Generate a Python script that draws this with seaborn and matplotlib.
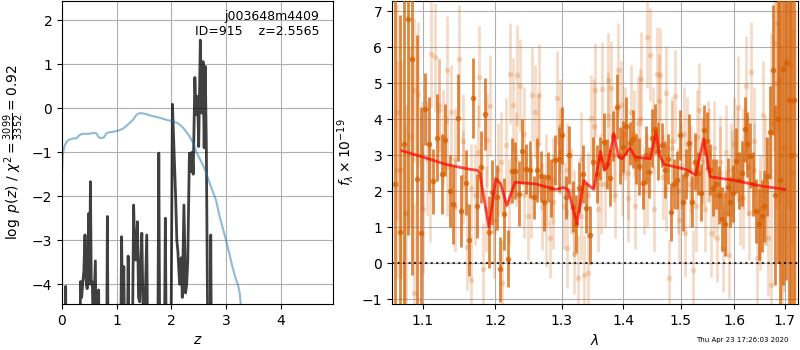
"""Redshift fit summary: p(z) on the left, G141 spectrum + best-fit model on the right."""

import matplotlib
matplotlib.use('Agg')

import matplotlib.pyplot as plt
import seaborn as sns
from matplotlib.ticker import NullLocator

# ---- left panel: log p(z) (dark, spiky) and scaled chi2 curve (blue) ----
PZ_Z = [0.00, 0.060, 0.067, 0.075, 0.32, 0.34, 0.36, 0.38, 0.40, 0.42,
        0.44, 0.46, 0.49, 0.505, 0.52, 0.535, 0.555, 0.57, 0.61, 0.63,
        0.67, 0.685, 0.815, 0.83, 0.845, 1.07, 1.09, 1.11, 1.13, 1.15,
        1.19, 1.21, 1.23, 1.29, 1.31, 1.33, 1.35, 1.38, 1.40, 1.42,
        1.44, 1.46, 1.48, 1.51, 1.55, 1.57, 1.75, 1.77, 1.79, 1.87,
        1.89, 1.91, 1.99, 2.02, 2.05, 2.08, 2.10, 2.12, 2.15, 2.18,
        2.20, 2.23, 2.26, 2.28, 2.30, 2.33, 2.36, 2.38, 2.40, 2.43,
        2.45, 2.48, 2.50, 2.53, 2.555, 2.58, 2.60, 2.62, 2.64, 2.67,
        2.71, 2.72, 2.735, 3.00]
PZ_LOGP = [-6, -6, -4.05, -6, -6, -3.94, -4.3, -3.95, -3.7, -2.88,
           -3.9, -4.1, -2.39, -4.0, -1.67, -3.9, -3.98, -5, -3.47, -6,
           -4.13, -6, -6, -2.46, -6, -6, -2.92, -5, -3.6, -6,
           -6, -3.36, -6, -5, -2.2, -3.2, -3.45, -2.58, -4.3, -4.4,
           -3.5, -2.84, -4.4, -5, -2.88, -6, -6, -1.02, -6, -6,
           -2.5, -6, -6, 0.09, -1.0, -2.08, -3.0, -3.26, -4.0, -3.4,
           -4.3, -2.2, -4.2, -4.0, -3.48, -1.02, -1.44, -1.0, -1.5, 0.70,
           -0.15, 0.27, -0.87, 1.55, -0.11, 1.06, -0.9, 0.95, -0.9, -6,
           -6, -2.88, -6, -6]

CHI_Z = [0.0, 0.015, 0.04, 0.08, 0.12, 0.17, 0.22, 0.26, 0.30, 0.35,
         0.40, 0.50, 0.58, 0.63, 0.67, 0.72, 0.77, 0.81, 0.86, 0.95,
         1.05, 1.12, 1.18, 1.24, 1.30, 1.36, 1.42, 1.50, 1.60, 1.70,
         1.80, 1.90, 2.00, 2.10, 2.16, 2.22, 2.28, 2.34, 2.40, 2.46,
         2.52, 2.58, 2.64, 2.70, 2.76, 2.82, 2.88, 2.94, 3.00, 3.06,
         3.12, 3.18, 3.22, 3.25, 3.28]
CHI_VAL = [-1.45, -1.05, -0.88, -0.77, -0.72, -0.70, -0.68, -0.69, -0.63, -0.59,
           -0.58, -0.58, -0.56, -0.57, -0.66, -0.68, -0.66, -0.57, -0.55, -0.53,
           -0.50, -0.46, -0.40, -0.33, -0.26, -0.15, -0.11, -0.12, -0.16, -0.19,
           -0.22, -0.26, -0.29, -0.33, -0.38, -0.45, -0.55, -0.65, -0.80, -1.0,
           -1.15, -1.30, -1.48, -1.70, -1.90, -2.10, -2.45, -2.72, -3.0, -3.3,
           -3.62, -3.88, -4.02, -4.2, -4.6]

# ---- right panel: spectrum (dark set + two faint sets) and model ----
DARK_WAVE = [1.064, 1.070, 1.075, 1.081, 1.086, 1.092, 1.097, 1.103, 1.108, 1.114,
             1.119, 1.125, 1.130, 1.136, 1.141, 1.147, 1.152, 1.158, 1.163, 1.169,
             1.174, 1.180, 1.185, 1.191, 1.196, 1.202, 1.207, 1.213, 1.218, 1.224,
             1.229, 1.235, 1.240, 1.246, 1.251, 1.257, 1.262, 1.268, 1.273, 1.279,
             1.284, 1.290, 1.295, 1.301, 1.306, 1.312, 1.317, 1.323, 1.328, 1.334,
             1.339, 1.345, 1.350, 1.356, 1.361, 1.367, 1.372, 1.378, 1.383, 1.389,
             1.394, 1.400, 1.405, 1.411, 1.416, 1.422, 1.427, 1.433, 1.438, 1.444,
             1.449, 1.455, 1.460, 1.466, 1.471, 1.477, 1.482, 1.488, 1.493, 1.499,
             1.504, 1.510, 1.515, 1.521, 1.526, 1.532, 1.537, 1.543, 1.548, 1.554,
             1.559, 1.565, 1.570, 1.576, 1.581, 1.587, 1.592, 1.598, 1.603, 1.609,
             1.614, 1.620, 1.625, 1.631, 1.636, 1.642, 1.647, 1.653, 1.658, 1.664,
             1.669, 1.675, 1.680, 1.686, 1.691, 1.697, 1.702, 1.708, 1.713, 1.718]
DARK_FLUX = [2.2, 0.88, 3.3, 6.78, 5.67, 2.33, 0.83, 4.29, 3.31, 2.27,
             3.49, 2.48, 3.43, 2.0, 1.64, 4.04, 1.45, 2.23, 0.64, 4.59,
             1.59, 2.66, 4.14, 0.86, 1.97, 1.83, -0.17, 1.37, 0.13, 2.57,
             2.57, 1.93, 3.11, 2.62, 2.6, 1.83, 2.59, 2.41, 1.69, 2.4,
             2.08, 2.87, 2.88, 3.55, 1.83, 3.01, 1.57, 1.09, 2.1, 2.47,
             1.53, 0.79, 2.8, 2.47, 2.9, 3.36, 2.75, 2.38, 3.53, 4.35,
             2.99, 3.24, 3.8, 3.33, 3.44, 2.9, 2.69, 2.22, 3.0, 2.52,
             3.47, 3.72, 3.12, 3.28, 2.6, 2.9, 1.42, 2.2, 2.31, 3.56,
             1.69, 2.48, 3.33, 1.71, 2.82, 2.5, 1.96, 3.7, 3.39, 2.6,
             2.1, 2.2, 1.9, 1.23, 1.09, 2.11, 1.7, 1.94, 2.84, 2.3,
             2.5, 3.72, 3.3, 2.99, 2.2, 1.45, 1.1, 1.3, 1.59, 2.41,
             3.63, 5.36, 1.9, 4.0, 2.3, 5.4, 5.55, 4.54, 3.0, 4.54]
DARK_ERR = [6, 6, 6, 6, 6, 4, 3.5, 1.0, 1.3, 0.9,
            1.2, 1.1, 1.0, 1.0, 1.1, 1.2, 1.0, 0.9, 1.0, 1.1,
            0.9, 1.0, 1.0, 1.0, 0.9, 0.9, 0.9, 1.0, 0.8, 0.9,
            0.8, 0.9, 0.9, 0.7, 0.8, 0.6, 0.9, 0.7, 0.8, 0.7,
            0.8, 0.7, 0.9, 0.8, 0.6, 0.8, 0.7, 0.8, 0.7, 0.8,
            0.7, 0.8, 0.7, 0.8, 0.6, 0.8, 0.7, 0.8, 0.7, 0.9,
            0.8, 0.7, 0.8, 0.6, 0.8, 0.7, 0.8, 0.7, 0.8, 0.7,
            0.8, 0.7, 0.8, 0.6, 0.8, 0.7, 0.8, 0.7, 0.8, 0.7,
            0.8, 0.7, 0.8, 0.7, 0.8, 0.6, 0.8, 0.7, 0.8, 0.7,
            0.8, 0.7, 0.8, 0.9, 0.9, 0.8, 0.7, 0.8, 0.9, 0.8,
            0.9, 0.9, 0.9, 0.9, 0.9, 0.9, 1.0, 1.0, 1.0, 1.1,
            1.3, 1.8, 2.5, 4, 5, 6, 6, 6, 6, 6]

LIGHT_WAVE = [1.067, 1.072, 1.078, 1.083, 1.089, 1.094, 1.100, 1.105, 1.111, 1.116,
              1.122, 1.127, 1.133, 1.138, 1.144, 1.149, 1.155, 1.160, 1.166, 1.171,
              1.177, 1.182, 1.188, 1.193, 1.199, 1.204, 1.210, 1.215, 1.221, 1.226,
              1.232, 1.237, 1.243, 1.248, 1.254, 1.259, 1.265, 1.270, 1.276, 1.281,
              1.287, 1.292, 1.298, 1.303, 1.309, 1.314, 1.320, 1.325, 1.331, 1.336,
              1.342, 1.347, 1.353, 1.358, 1.364, 1.369, 1.375, 1.380, 1.386, 1.391,
              1.397, 1.402, 1.408, 1.413, 1.419, 1.424, 1.430, 1.435, 1.441, 1.446,
              1.452, 1.457, 1.463, 1.468, 1.474, 1.479, 1.485, 1.490, 1.496, 1.501,
              1.507, 1.512, 1.518, 1.523, 1.529, 1.534, 1.540, 1.545, 1.551, 1.556,
              1.562, 1.567, 1.573, 1.578, 1.584, 1.589, 1.595, 1.600, 1.606, 1.611,
              1.617, 1.622, 1.628, 1.633, 1.639, 1.644, 1.650, 1.655, 1.661, 1.666,
              1.672, 1.677, 1.683, 1.688, 1.694, 1.699, 1.705, 1.710, 1.716, 1.721]
LIGHT_FLUX = [4.2, 2.6, 1.4, 3.52, -0.83, 4.7, 1.5, 2.9, 5.81, 5.72,
              4.26, 3.5, 5.37, 4.2, 2.9, 5.67, 2.4, 0.46, -0.46, 1.9,
              5.17, -0.17, 3.43, 4.37, 1.2, 2.6, -0.55, 3.29, 5.26, 4.4,
              5.22, 4.93, 1.9, 1.3, 4.68, 4.21, 4.68, 1.57, 1.11, 0.69,
              2.3, 4.58, 3.81, 1.6, 0.42, 2.0, 0.26, -0.42, 1.3, -0.32,
              -0.28, 4.03, 4.81, 1.5, 4.83, 2.2, 5.09, 4.86, 1.9, 5.37,
              2.5, 3.6, 1.8, 4.2, 1.6, 3.9, 5.12, 2.0, 6.27, 5.79,
              1.5, 5.26, 5.23, 2.4, 4.72, -0.42, 3.4, 4.63, 1.2, 2.7,
              0.83, 3.3, 2.6, -0.19, 3.5, 4.26, 2.8, 1.5, 3.0, 0.83,
              3.2, 0.69, 2.5, 0.39, 3.1, 0.23, 2.4, 3.3, 4.35, 1.8,
              2.9, 4.91, 1.4, 5.3, 2.6, 0.14, 1.2, 4.12, 2.0, 0.7,
              -0.6, 6.11, 6.67, 5.1, 2.0, 3.2, 4.0, 5.5, 2.5, 3.0]
LIGHT_ERR = [3, 3, 3, 2.5, 2.5, 2, 1.8, 1.6, 1.5, 1.5,
             1.4, 1.3, 1.5, 1.3, 1.4, 1.5, 1.3, 1.2, 1.3, 1.4,
             1.4, 1.3, 1.3, 1.4, 1.2, 1.3, 1.2, 1.3, 1.4, 1.3,
             1.4, 1.3, 1.2, 1.2, 1.3, 1.3, 1.4, 1.2, 1.2, 1.1,
             1.2, 1.3, 1.3, 1.2, 1.1, 1.2, 1.1, 1.2, 1.2, 1.1,
             1.1, 1.2, 1.3, 1.2, 1.3, 1.2, 1.3, 1.3, 1.2, 1.3,
             1.2, 1.3, 1.2, 1.3, 1.2, 1.3, 1.3, 1.2, 1.4, 1.3,
             1.2, 1.3, 1.3, 1.2, 1.3, 1.1, 1.2, 1.3, 1.2, 1.2,
             1.2, 1.3, 1.2, 1.1, 1.3, 1.3, 1.2, 1.2, 1.3, 1.2,
             1.3, 1.2, 1.3, 1.2, 1.3, 1.2, 1.3, 1.3, 1.4, 1.3,
             1.4, 1.4, 1.3, 1.4, 1.3, 1.3, 1.4, 1.5, 1.5, 1.6,
             2.0, 3.0, 3.0, 3.5, 4.0, 4.0, 4.0, 4.0, 4.0, 4.0]

LIGHT2_WAVE = [1.066, 1.077, 1.088, 1.099, 1.110, 1.121, 1.132, 1.143, 1.154, 1.165,
               1.176, 1.187, 1.198, 1.209, 1.220, 1.231, 1.242, 1.253, 1.264, 1.275,
               1.286, 1.297, 1.308, 1.319, 1.330, 1.341, 1.352, 1.363, 1.374, 1.385,
               1.396, 1.407, 1.418, 1.429, 1.440, 1.451, 1.462, 1.473, 1.484, 1.495,
               1.506, 1.517, 1.528, 1.539, 1.550, 1.561, 1.572, 1.583, 1.594, 1.605,
               1.616, 1.627, 1.638, 1.649, 1.660, 1.671, 1.682, 1.693, 1.704, 1.715]
LIGHT2_FLUX = [2.6, 1.4, 4.8, 3.0, 2.0, 4.4, 2.7, 1.6, 3.4, 2.1,
               3.1, 1.5, 0.9, 2.8, 1.7, 2.9, 3.6, 1.9, 3.3, 2.4,
               1.7, 3.1, 2.6, 1.4, 2.9, 1.9, 3.8, 2.2, 4.1, 3.0,
               4.4, 2.5, 3.6, 4.0, 2.3, 3.7, 4.5, 2.1, 3.2, 2.0,
               3.6, 2.2, 1.6, 2.9, 3.1, 1.9, 2.8, 1.4, 2.6, 3.0,
               1.8, 2.7, 3.4, 1.5, 2.3, 3.9, 5.0, 3.0, 5.6, 4.5]
LIGHT2_ERR = [3, 2.5, 2, 1.5, 1.4, 1.3, 1.4, 1.3, 1.3, 1.2,
              1.3, 1.2, 1.3, 1.4, 1.2, 1.3, 1.3, 1.2, 1.4, 1.2,
              1.3, 1.2, 1.3, 1.2, 1.3, 1.2, 1.3, 1.4, 1.2, 1.3,
              1.2, 1.3, 1.2, 1.4, 1.3, 1.2, 1.3, 1.2, 1.3, 1.2,
              1.3, 1.2, 1.3, 1.2, 1.4, 1.2, 1.3, 1.2, 1.3, 1.3,
              1.4, 1.4, 1.5, 1.5, 1.8, 2.5, 3.5, 4, 4, 4]

MODEL_WAVE = [1.073, 1.10, 1.13, 1.16, 1.175, 1.178, 1.191, 1.201, 1.208, 1.217,
              1.229, 1.26, 1.29, 1.302, 1.31, 1.324, 1.335, 1.340, 1.351, 1.362,
              1.368, 1.373, 1.384, 1.392, 1.398, 1.411, 1.42, 1.446, 1.456, 1.462,
              1.470, 1.51, 1.527, 1.542, 1.554, 1.60, 1.65, 1.70]
MODEL_FLUX = [3.12, 2.95, 2.75, 2.62, 2.58, 2.5, 1.0, 2.35, 2.2, 1.6,
              2.25, 2.2, 2.05, 2.1, 2.05, 1.1, 2.3, 2.2, 2.05, 3.1,
              2.6, 2.65, 3.6, 2.95, 2.9, 3.2, 2.95, 2.9, 3.65, 3.0,
              2.75, 2.6, 2.45, 3.45, 2.4, 2.3, 2.15, 2.05]

TICKS_Z = [0, 1, 2, 3, 4]
TICKS_LAM = [1.1, 1.2, 1.3, 1.4, 1.5, 1.6, 1.7]

GRISM_COLOR = '#d55e00'

fig = plt.figure(figsize=(8, 3.5), dpi=100)
ax1 = fig.add_axes([0.0775, 0.1314, 0.339, 0.866])
ax2 = fig.add_axes([0.49, 0.1314, 0.5075, 0.866])

# Left: p(z)
sns.lineplot(x=PZ_Z, y=PZ_LOGP, ax=ax1, color='k', alpha=0.75, lw=2,
             estimator=None, sort=False)
sns.lineplot(x=CHI_Z, y=CHI_VAL, ax=ax1, color='tab:blue', alpha=0.5, lw=1.5,
             estimator=None, sort=False)
ax1.set_xlim(0, 4.96)
ax1.set_ylim(-4.45, 2.44)
ax1.set_xticks(TICKS_Z)
ax1.grid(True)
ax1.set_xlabel('$z$')
ax1.set_ylabel(r'$\log\ p(z)$ / $\chi^2=\frac{3099}{3352}=0.92$')
ax1.text(0.95, 0.97, 'j003648m4409\nID=915    z=2.5565', transform=ax1.transAxes,
         ha='right', va='top', multialignment='right', fontsize=9)

# Right: spectrum, faint sets first so the dark one sits on top
for wave, flux, err in [(LIGHT_WAVE, LIGHT_FLUX, LIGHT_ERR),
                        (LIGHT2_WAVE, LIGHT2_FLUX, LIGHT2_ERR)]:
    ax2.errorbar(wave, flux, yerr=err, fmt='none', ecolor=GRISM_COLOR,
                 alpha=0.22, elinewidth=2.0, zorder=2)
    sns.scatterplot(x=wave, y=flux, ax=ax2, color=GRISM_COLOR,
                    alpha=0.22, s=16, linewidth=0, zorder=2)
ax2.errorbar(DARK_WAVE, DARK_FLUX, yerr=DARK_ERR, fmt='none',
             ecolor=GRISM_COLOR, alpha=0.75, elinewidth=2.0, zorder=3)
sns.scatterplot(x=DARK_WAVE, y=DARK_FLUX, ax=ax2, color=GRISM_COLOR,
                alpha=0.75, s=16, linewidth=0, zorder=3)
sns.lineplot(x=MODEL_WAVE, y=MODEL_FLUX, ax=ax2, color='red', alpha=0.7, lw=2,
             estimator=None, sort=False, zorder=4)
ax2.axhline(0, color='k', linestyle=':', lw=1.5, alpha=0.8, zorder=5)

ax2.set_xscale('log')
ax2.set_xlim(1.06, 1.727)
ax2.set_ylim(-1.13, 7.28)
ax2.set_xticks(TICKS_LAM, [f'{t:.1f}' for t in TICKS_LAM])
ax2.xaxis.set_minor_locator(NullLocator())
ax2.grid(True)
ax2.set_xlabel(r'$\lambda$')
ax2.set_ylabel(r'$f_\lambda\times10^{-19}$')

fig.text(0.9275, 0.029, 'Thu Apr 23 17:26:03 2020', ha='center', va='center', fontsize=5)

fig.savefig('out.png', dpi=100)
